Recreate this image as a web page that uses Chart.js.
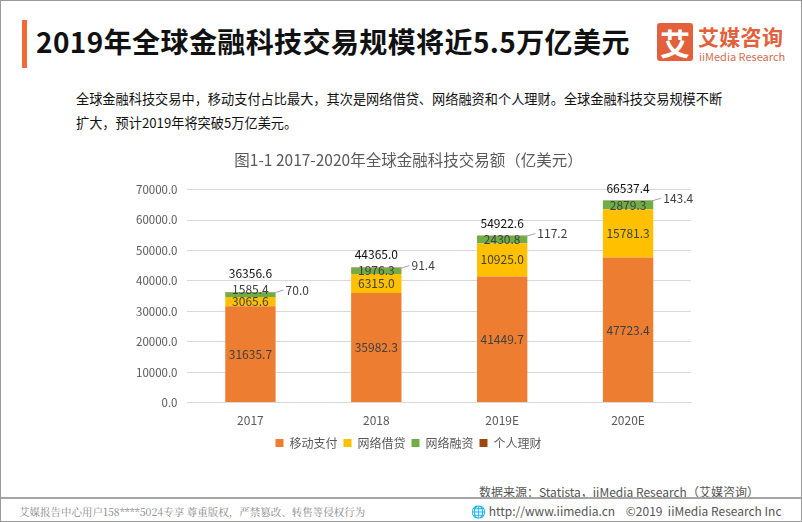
<!DOCTYPE html>
<html lang="zh">
<head>
<meta charset="UTF-8">
<title>全球金融科技交易规模</title>
<script src="https://cdn.jsdelivr.net/npm/chart.js"></script>
<style>
  body { margin: 0; background: #fff; font-family: "Noto Sans CJK SC", "Noto Sans", sans-serif; }
  #page { position: relative; width: 800px; height: 520px; border: 1px solid #9a9a9a; overflow: hidden; background: #fff; }
  #bar { position: absolute; left: 21px; top: 19px; width: 5px; height: 48px; background: #f06a35; }
  #title { position: absolute; left: 35px; top: 20px; font-size: 28px; font-weight: bold; color: #111; letter-spacing: 0.4px; white-space: nowrap; }
  #logo-box { position: absolute; left: 656px; top: 22px; width: 36px; height: 38px; background: #e2603b; border-radius: 3px; color: #fff; font-size: 30px; font-weight: bold; line-height: 38px; text-align: center; }
  #logo-cn { position: absolute; left: 697px; top: 20px; font-size: 21px; font-weight: bold; color: #e2603b; letter-spacing: 0.3px; }
  #logo-en { position: absolute; left: 698px; top: 47px; font-size: 11px; color: #d0704f; }
  #intro { position: absolute; left: 75px; top: 86px; width: 660px; font-size: 13.2px; line-height: 24px; color: #111; }
  #chart-wrap { position: absolute; left: 120px; top: 140px; width: 600px; height: 318px; }
  #source { position: absolute; left: 478px; top: 482px; font-size: 12px; color: #555; white-space: nowrap; }
  #rule { position: absolute; left: 0; top: 496px; width: 800px; height: 2px; background: #a5a5a5; }
  #foot-left { position: absolute; left: 18px; top: 503px; font-size: 10.5px; color: #888; font-family: "Noto Serif CJK SC", "DejaVu Serif", serif; white-space: nowrap; }
  #foot-right { position: absolute; left: 470px; top: 501px; font-size: 12px; color: #555; white-space: nowrap; }
</style>
</head>
<body>
<div id="page">
  <div id="bar"></div>
  <div id="title">2019年全球金融科技交易规模将近5.5万亿美元</div>
  <div id="logo-box">艾</div>
  <div id="logo-cn">艾媒咨询</div>
  <div id="logo-en">iiMedia Research</div>
  <div id="intro">全球金融科技交易中，移动支付占比最大，其次是网络借贷、网络融资和个人理财。全球金融科技交易规模不断<br>扩大，预计2019年将突破5万亿美元。</div>
  <div id="chart-wrap"><canvas id="chart"></canvas></div>
  <div id="source">数据来源：Statista，iiMedia Research（艾媒咨询）</div>
  <div id="rule"></div>
  <div id="foot-left">艾媒报告中心用户158****5024专享 尊重版权，严禁篡改、转售等侵权行为</div>
  <div id="foot-right">&#127760; http://www.iimedia.cn &nbsp;&nbsp; ©2019 &nbsp;iiMedia Research Inc</div>
</div>

<script>
// 数据
const years = ['2017', '2018', '2019E', '2020E'];
const mobilePay = [31635.7, 35982.3, 41449.7, 47723.4];
const onlineLending = [3065.6, 6315.0, 10925.0, 15781.3];
const onlineFinancing = [1585.4, 1976.3, 2430.8, 2879.3];
const personalFinance = [70.0, 91.4, 117.2, 143.4];
const totals = [36356.6, 44365.0, 54922.6, 66537.4];

const seriesNames = ['移动支付', '网络借贷', '网络融资', '个人理财'];
const seriesColors = ['#ed7d31', '#ffc000', '#70ad47', '#9e480e'];

const FONT = '"Noto Sans CJK SC", "Noto Sans", sans-serif';

// 数据标签
const labelPlugin = {
  id: 'barLabels',
  afterDatasetsDraw(chart) {
    const ctx = chart.ctx;
    const y = chart.scales.y;
    ctx.save();
    ctx.font = '12px ' + FONT;
    ctx.textBaseline = 'middle';
    years.forEach((yr, i) => {
      let base = 0;
      let prevY = Infinity;
      // 前三个系列：标签放在段中间，避免重叠
      ctx.textAlign = 'center';
      for (let d = 0; d < 3; d++) {
        const v = chart.data.datasets[d].data[i];
        const cy = Math.min(y.getPixelForValue(base + v / 2), prevY - 12);
        const bar = chart.getDatasetMeta(d).data[i];
        ctx.fillStyle = '#404040';
        ctx.fillText(v.toFixed(1), bar.x, cy);
        prevY = cy;
        base += v;
      }
      // 个人理财：右侧引线标注
      const bar = chart.getDatasetMeta(3).data[i];
      const topY = y.getPixelForValue(totals[i]);
      const right = bar.x + bar.width / 2;
      ctx.strokeStyle = '#a6a6a6';
      ctx.lineWidth = 1;
      ctx.beginPath();
      ctx.moveTo(right - 2, topY + 1);
      ctx.lineTo(right + 8, topY - 2);
      ctx.stroke();
      ctx.textAlign = 'left';
      ctx.fillStyle = '#404040';
      ctx.fillText(personalFinance[i].toFixed(1), right + 10, topY - 2);
      // 合计
      ctx.textAlign = 'center';
      ctx.fillStyle = '#111';
      const ty = Math.min(topY - 12, prevY - 16);
      ctx.fillText(totals[i].toFixed(1), bar.x, ty);
    });
    ctx.restore();
  }
};

const dataArrays = [mobilePay, onlineLending, onlineFinancing, personalFinance];

new Chart(document.getElementById('chart'), {
  type: 'bar',
  data: {
    labels: years,
    datasets: dataArrays.map((arr, k) => ({
      label: seriesNames[k],
      data: arr,
      backgroundColor: seriesColors[k],
      borderWidth: 0,
      categoryPercentage: 1,
      barPercentage: 0.4
    }))
  },
  options: {
    responsive: true,
    maintainAspectRatio: false,
    animation: false,
    layout: { padding: { left: 5, right: 30, top: 0, bottom: 0 } },
    plugins: {
      title: {
        display: true,
        text: '图1-1 2017-2020年全球金融科技交易额（亿美元）',
        color: '#595959',
        font: { family: FONT, size: 15.5, weight: 'normal' },
        padding: { top: 10, bottom: 20 }
      },
      legend: {
        position: 'bottom',
        labels: {
          boxWidth: 8,
          boxHeight: 8,
          color: '#595959',
          font: { family: FONT, size: 12 },
          padding: 6
        }
      },
      tooltip: { enabled: false }
    },
    scales: {
      x: {
        stacked: true,
        grid: { display: false },
        border: { color: '#d9d9d9' },
        ticks: { color: '#595959', font: { family: FONT, size: 12 }, padding: 3 }
      },
      y: {
        stacked: true,
        min: 0,
        max: 70000,
        border: { display: false },
        grid: { color: '#d9d9d9', drawTicks: false },
        ticks: {
          stepSize: 10000,
          color: '#595959',
          font: { family: FONT, size: 11.5 },
          padding: 10,
          callback: v => v.toFixed(1)
        }
      }
    }
  },
  plugins: [labelPlugin]
});
</script>
</body>
</html>
